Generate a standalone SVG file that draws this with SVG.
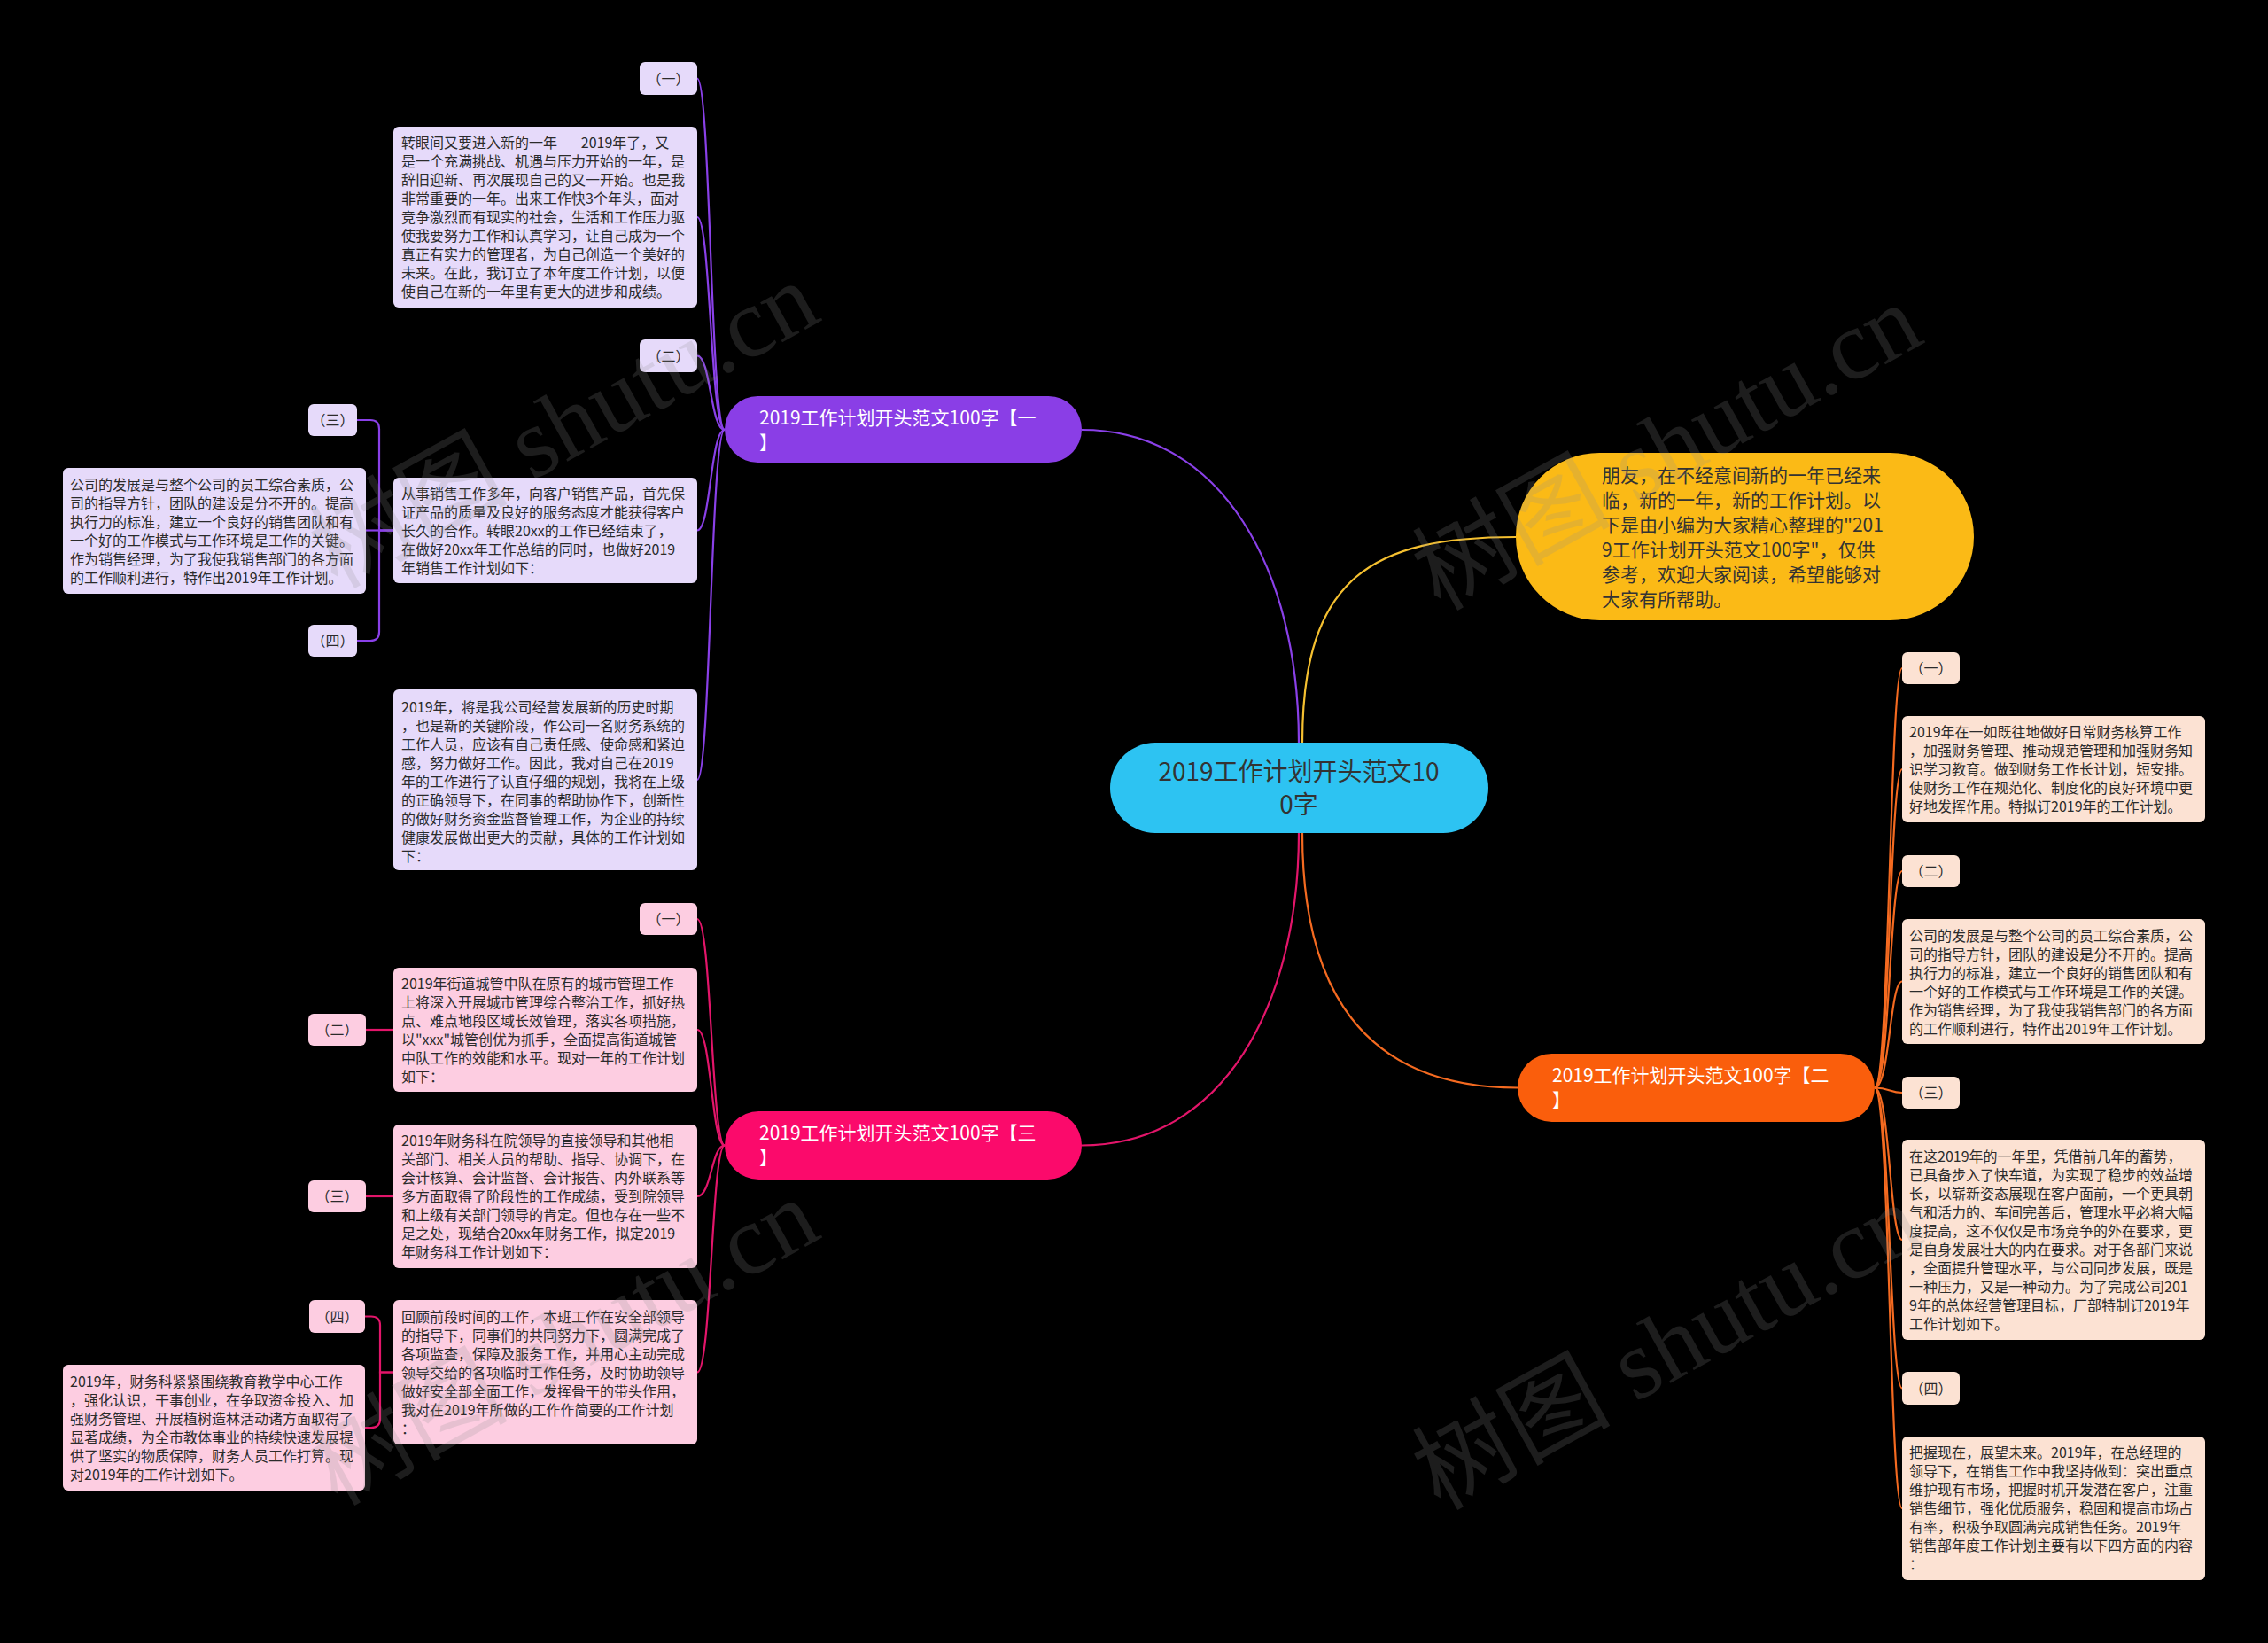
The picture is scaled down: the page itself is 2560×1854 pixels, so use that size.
<svg xmlns="http://www.w3.org/2000/svg" width="2560" height="1854" viewBox="0 0 2560 1854">
<style>
text{font-family:"Noto Sans CJK SC","Noto Sans",sans-serif;}
.t16{font-size:16px;fill:#2b2b2b;}
.lbl{font-size:16px;fill:#2b2b2b;text-anchor:middle;}
.br{font-size:21px;fill:#ffffff;}
.pc{fill:#E6DAFA;}
.kc{fill:#FDCDE1;}
.oc{fill:#FCE2D3;}
.cp{fill:none;stroke:#8A40E8;stroke-width:2.2;}
.ck{fill:none;stroke:#E3156A;stroke-width:2.2;}
.co{fill:none;stroke:#F46A20;stroke-width:2.2;}
.cy{fill:none;stroke:#F5C030;stroke-width:2.2;}
.wm{font-family:"Liberation Serif","Noto Sans CJK SC",serif;font-size:112px;fill:#909090;opacity:0.2;}
</style>
<rect x="0" y="0" width="2560" height="1854" fill="#000000"/>

<g id="connectors">
  <path class="cp" d="M1466 838 C1466 644 1380 485 1221 485"/>
  <path class="cy" d="M1470 838 C1470 650 1550 606 1711 606"/>
  <path class="co" d="M1470 940 C1470 1130 1550 1227.5 1713 1227.5"/>
  <path class="ck" d="M1466 940 C1466 1135 1380 1292.5 1221 1292.5"/>
  <path class="cp" d="M818 485 C802 485 802 88.5 787 88.5"/>
  <path class="cp" d="M818 485 C802 485 802 245 787 245"/>
  <path class="cp" d="M818 485 C802 485 802 401.5 787 401.5"/>
  <path class="cp" d="M818 485 C802 485 802 598.5 787 598.5"/>
  <path class="cp" d="M818 485 C802 485 802 880 787 880"/>
  <path class="cp" d="M444 598.5 H428 V484 Q428 474 418 474 H403"/>
  <path class="cp" d="M444 598.5 H413"/>
  <path class="cp" d="M444 598.5 H428 V713 Q428 723 418 723 H403"/>
  <path class="ck" d="M818 1292.5 C803 1292.5 803 1037 787 1037"/>
  <path class="ck" d="M818 1292.5 C803 1292.5 803 1162 787 1162"/>
  <path class="ck" d="M818 1292.5 C803 1292.5 803 1350 787 1350"/>
  <path class="ck" d="M818 1292.5 C803 1292.5 803 1548.5 787 1548.5"/>
  <path class="ck" d="M444 1162 H413"/>
  <path class="ck" d="M444 1350 H413"/>
  <path class="ck" d="M444 1548.5 H429 V1495.5 Q429 1485.5 419 1485.5 H412"/>
  <path class="ck" d="M444 1548.5 H429 V1601 Q429 1611 419 1611 H412"/>
  <path class="co" d="M2116 1227.5 C2133 1227.5 2133 754 2147 754"/>
  <path class="co" d="M2116 1227.5 C2133 1227.5 2133 868 2147 868"/>
  <path class="co" d="M2116 1227.5 C2133 1227.5 2133 983 2147 983"/>
  <path class="co" d="M2116 1227.5 C2133 1227.5 2133 1107.5 2147 1107.5"/>
  <path class="co" d="M2116 1227.5 C2133 1227.5 2133 1233 2147 1233"/>
  <path class="co" d="M2116 1227.5 C2133 1227.5 2133 1399 2147 1399"/>
  <path class="co" d="M2116 1227.5 C2133 1227.5 2133 1566.5 2147 1566.5"/>
  <path class="co" d="M2116 1227.5 C2133 1227.5 2133 1702 2147 1702"/>
</g>

<g id="root">
  <rect x="1253" y="838" width="427" height="102" rx="51" fill="#2DC3F2"/>
  <text font-size="28" fill="#333333" text-anchor="middle"><tspan x="1466" y="881">2019工作计划开头范文10</tspan><tspan x="1466" y="918">0字</tspan></text>
</g>

<g id="intro">
  <rect x="1711" y="511" width="517" height="189" rx="94.5" fill="#FBBA16"/>
  <text font-size="21" fill="#333333">
    <tspan x="1808" y="543.5">朋友，在不经意间新的一年已经来</tspan>
    <tspan x="1808" y="571.5">临，新的一年，新的工作计划。以</tspan>
    <tspan x="1808" y="599.5">下是由小编为大家精心整理的"201</tspan>
    <tspan x="1808" y="627.5">9工作计划开头范文100字"，仅供</tspan>
    <tspan x="1808" y="655.5">参考，欢迎大家阅读，希望能够对</tspan>
    <tspan x="1808" y="683.5">大家有所帮助。</tspan>
  </text>
</g>

<g id="branch1">
  <rect x="818" y="447" width="403" height="75" rx="37.5" fill="#8A3EE6"/>
  <text class="br"><tspan x="857" y="479">2019工作计划开头范文100字【一</tspan><tspan x="857" y="507">】</tspan></text>
</g>
<g id="b1-l1"><rect class="pc" x="722" y="70" width="65" height="37" rx="6"/><text class="lbl" x="754.5" y="94.5">（一）</text></g>
<g id="b1-t1"><rect class="pc" x="444" y="143" width="343" height="204" rx="6"/>
  <text class="t16">
    <tspan x="453" y="167">转眼间又要进入新的一年——2019年了，又</tspan>
    <tspan x="453" y="188">是一个充满挑战、机遇与压力开始的一年，是</tspan>
    <tspan x="453" y="209">辞旧迎新、再次展现自己的又一开始。也是我</tspan>
    <tspan x="453" y="230">非常重要的一年。出来工作快3个年头，面对</tspan>
    <tspan x="453" y="251">竞争激烈而有现实的社会，生活和工作压力驱</tspan>
    <tspan x="453" y="272">使我要努力工作和认真学习，让自己成为一个</tspan>
    <tspan x="453" y="293">真正有实力的管理者，为自己创造一个美好的</tspan>
    <tspan x="453" y="314">未来。在此，我订立了本年度工作计划，以便</tspan>
    <tspan x="453" y="335">使自己在新的一年里有更大的进步和成绩。</tspan>
  </text></g>
<g id="b1-l2"><rect class="pc" x="722" y="383" width="65" height="37" rx="6"/><text class="lbl" x="754.5" y="407.5">（二）</text></g>
<g id="b1-t2"><rect class="pc" x="444" y="539" width="343" height="119" rx="6"/>
  <text class="t16">
    <tspan x="453" y="562.5">从事销售工作多年，向客户销售产品，首先保</tspan>
    <tspan x="453" y="583.5">证产品的质量及良好的服务态度才能获得客户</tspan>
    <tspan x="453" y="604.5">长久的合作。转眼20xx的工作已经结束了，</tspan>
    <tspan x="453" y="625.5">在做好20xx年工作总结的同时，也做好2019</tspan>
    <tspan x="453" y="646.5">年销售工作计划如下：</tspan>
  </text></g>
<g id="b1-l3"><rect class="pc" x="348" y="456" width="55" height="36" rx="6"/><text class="lbl" x="375.5" y="480">（三）</text></g>
<g id="b1-t4"><rect class="pc" x="71" y="528" width="342" height="142" rx="6"/>
  <text class="t16">
    <tspan x="79" y="552.5">公司的发展是与整个公司的员工综合素质，公</tspan>
    <tspan x="79" y="573.5">司的指导方针，团队的建设是分不开的。提高</tspan>
    <tspan x="79" y="594.5">执行力的标准，建立一个良好的销售团队和有</tspan>
    <tspan x="79" y="615.5">一个好的工作模式与工作环境是工作的关键。</tspan>
    <tspan x="79" y="636.5">作为销售经理，为了我使我销售部门的各方面</tspan>
    <tspan x="79" y="657.5">的工作顺利进行，特作出2019年工作计划。</tspan>
  </text></g>
<g id="b1-l4"><rect class="pc" x="348" y="705" width="55" height="36" rx="6"/><text class="lbl" x="375.5" y="729">（四）</text></g>
<g id="b1-t3"><rect class="pc" x="444" y="778" width="343" height="204" rx="6"/>
  <text class="t16">
    <tspan x="453" y="803.5">2019年，将是我公司经营发展新的历史时期</tspan>
    <tspan x="453" y="824.5">，也是新的关键阶段，作公司一名财务系统的</tspan>
    <tspan x="453" y="845.5">工作人员，应该有自己责任感、使命感和紧迫</tspan>
    <tspan x="453" y="866.5">感，努力做好工作。因此，我对自己在2019</tspan>
    <tspan x="453" y="887.5">年的工作进行了认直仔细的规划，我将在上级</tspan>
    <tspan x="453" y="908.5">的正确领导下，在同事的帮助协作下，创新性</tspan>
    <tspan x="453" y="929.5">的做好财务资金监督管理工作，为企业的持续</tspan>
    <tspan x="453" y="950.5">健康发展做出更大的贡献，具体的工作计划如</tspan>
    <tspan x="453" y="971.5">下：</tspan>
  </text></g>

<g id="branch3">
  <rect x="818" y="1254" width="403" height="77" rx="38.5" fill="#FB0A6B"/>
  <text class="br"><tspan x="857" y="1286">2019工作计划开头范文100字【三</tspan><tspan x="857" y="1314">】</tspan></text>
</g>
<g id="b3-l1"><rect class="kc" x="722" y="1019" width="65" height="36" rx="6"/><text class="lbl" x="754.5" y="1043">（一）</text></g>
<g id="b3-t1"><rect class="kc" x="444" y="1092" width="343" height="140" rx="6"/>
  <text class="t16">
    <tspan x="453" y="1115.5">2019年街道城管中队在原有的城市管理工作</tspan>
    <tspan x="453" y="1136.5">上将深入开展城市管理综合整治工作，抓好热</tspan>
    <tspan x="453" y="1157.5">点、难点地段区域长效管理，落实各项措施，</tspan>
    <tspan x="453" y="1178.5">以"xxx"城管创优为抓手，全面提高街道城管</tspan>
    <tspan x="453" y="1199.5">中队工作的效能和水平。现对一年的工作计划</tspan>
    <tspan x="453" y="1220.5">如下：</tspan>
  </text></g>
<g id="b3-l2"><rect class="kc" x="348" y="1144" width="65" height="36" rx="6"/><text class="lbl" x="380.5" y="1168">（二）</text></g>
<g id="b3-t2"><rect class="kc" x="444" y="1269" width="343" height="162" rx="6"/>
  <text class="t16">
    <tspan x="453" y="1293">2019年财务科在院领导的直接领导和其他相</tspan>
    <tspan x="453" y="1314">关部门、相关人员的帮助、指导、协调下，在</tspan>
    <tspan x="453" y="1335">会计核算、会计监督、会计报告、内外联系等</tspan>
    <tspan x="453" y="1356">多方面取得了阶段性的工作成绩，受到院领导</tspan>
    <tspan x="453" y="1377">和上级有关部门领导的肯定。但也存在一些不</tspan>
    <tspan x="453" y="1398">足之处，现结合20xx年财务工作，拟定2019</tspan>
    <tspan x="453" y="1419">年财务科工作计划如下：</tspan>
  </text></g>
<g id="b3-l3"><rect class="kc" x="348" y="1332" width="65" height="36" rx="6"/><text class="lbl" x="380.5" y="1356">（三）</text></g>
<g id="b3-t3"><rect class="kc" x="444" y="1467" width="343" height="163" rx="6"/>
  <text class="t16">
    <tspan x="453" y="1491.5">回顾前段时间的工作，本班工作在安全部领导</tspan>
    <tspan x="453" y="1512.5">的指导下，同事们的共同努力下，圆满完成了</tspan>
    <tspan x="453" y="1533.5">各项监查，保障及服务工作，并用心主动完成</tspan>
    <tspan x="453" y="1554.5">领导交给的各项临时工作任务，及时协助领导</tspan>
    <tspan x="453" y="1575.5">做好安全部全面工作，发挥骨干的带头作用，</tspan>
    <tspan x="453" y="1596.5">我对在2019年所做的工作作简要的工作计划</tspan>
    <tspan x="453" y="1617.5">：</tspan>
  </text></g>
<g id="b3-l4"><rect class="kc" x="349" y="1467" width="63" height="37" rx="6"/><text class="lbl" x="380.5" y="1491.5">（四）</text></g>
<g id="b3-t4"><rect class="kc" x="71" y="1540" width="341" height="142" rx="6"/>
  <text class="t16">
    <tspan x="79" y="1564.5">2019年，财务科紧紧围绕教育教学中心工作</tspan>
    <tspan x="79" y="1585.5">，强化认识，干事创业，在争取资金投入、加</tspan>
    <tspan x="79" y="1606.5">强财务管理、开展植树造林活动诸方面取得了</tspan>
    <tspan x="79" y="1627.5">显著成绩，为全市教体事业的持续快速发展提</tspan>
    <tspan x="79" y="1648.5">供了坚实的物质保障，财务人员工作打算。现</tspan>
    <tspan x="79" y="1669.5">对2019年的工作计划如下。</tspan>
  </text></g>

<g id="branch2">
  <rect x="1713" y="1189" width="403" height="77" rx="38.5" fill="#FA5E0C"/>
  <text class="br"><tspan x="1752" y="1221">2019工作计划开头范文100字【二</tspan><tspan x="1752" y="1249">】</tspan></text>
</g>
<g id="b2-l1"><rect class="oc" x="2147" y="736" width="65" height="36" rx="6"/><text class="lbl" x="2179.5" y="760">（一）</text></g>
<g id="b2-t1"><rect class="oc" x="2147" y="808" width="342" height="120" rx="6"/>
  <text class="t16">
    <tspan x="2155" y="832">2019年在一如既往地做好日常财务核算工作</tspan>
    <tspan x="2155" y="853">，加强财务管理、推动规范管理和加强财务知</tspan>
    <tspan x="2155" y="874">识学习教育。做到财务工作长计划，短安排。</tspan>
    <tspan x="2155" y="895">使财务工作在规范化、制度化的良好环境中更</tspan>
    <tspan x="2155" y="916">好地发挥作用。特拟订2019年的工作计划。</tspan>
  </text></g>
<g id="b2-l2"><rect class="oc" x="2147" y="965" width="65" height="36" rx="6"/><text class="lbl" x="2179.5" y="989">（二）</text></g>
<g id="b2-t2"><rect class="oc" x="2147" y="1037" width="342" height="141" rx="6"/>
  <text class="t16">
    <tspan x="2155" y="1061.5">公司的发展是与整个公司的员工综合素质，公</tspan>
    <tspan x="2155" y="1082.5">司的指导方针，团队的建设是分不开的。提高</tspan>
    <tspan x="2155" y="1103.5">执行力的标准，建立一个良好的销售团队和有</tspan>
    <tspan x="2155" y="1124.5">一个好的工作模式与工作环境是工作的关键。</tspan>
    <tspan x="2155" y="1145.5">作为销售经理，为了我使我销售部门的各方面</tspan>
    <tspan x="2155" y="1166.5">的工作顺利进行，特作出2019年工作计划。</tspan>
  </text></g>
<g id="b2-l3"><rect class="oc" x="2147" y="1215" width="65" height="36" rx="6"/><text class="lbl" x="2179.5" y="1239">（三）</text></g>
<g id="b2-t3"><rect class="oc" x="2147" y="1286" width="342" height="226" rx="6"/>
  <text class="t16">
    <tspan x="2155" y="1310.5">在这2019年的一年里，凭借前几年的蓄势，</tspan>
    <tspan x="2155" y="1331.5">已具备步入了快车道，为实现了稳步的效益增</tspan>
    <tspan x="2155" y="1352.5">长，以崭新姿态展现在客户面前，一个更具朝</tspan>
    <tspan x="2155" y="1373.5">气和活力的、车间完善后，管理水平必将大幅</tspan>
    <tspan x="2155" y="1394.5">度提高，这不仅仅是市场竞争的外在要求，更</tspan>
    <tspan x="2155" y="1415.5">是自身发展壮大的内在要求。对于各部门来说</tspan>
    <tspan x="2155" y="1436.5">，全面提升管理水平，与公司同步发展，既是</tspan>
    <tspan x="2155" y="1457.5">一种压力，又是一种动力。为了完成公司201</tspan>
    <tspan x="2155" y="1478.5">9年的总体经营管理目标，厂部特制订2019年</tspan>
    <tspan x="2155" y="1499.5">工作计划如下。</tspan>
  </text></g>
<g id="b2-l4"><rect class="oc" x="2147" y="1548" width="65" height="37" rx="6"/><text class="lbl" x="2179.5" y="1572.5">（四）</text></g>
<g id="b2-t4"><rect class="oc" x="2147" y="1621" width="342" height="162" rx="6"/>
  <text class="t16">
    <tspan x="2155" y="1645">把握现在，展望未来。2019年，在总经理的</tspan>
    <tspan x="2155" y="1666">领导下，在销售工作中我坚持做到：突出重点</tspan>
    <tspan x="2155" y="1687">维护现有市场，把握时机开发潜在客户，注重</tspan>
    <tspan x="2155" y="1708">销售细节，强化优质服务，稳固和提高市场占</tspan>
    <tspan x="2155" y="1729">有率，积极争取圆满完成销售任务。2019年</tspan>
    <tspan x="2155" y="1750">销售部年度工作计划主要有以下四方面的内容</tspan>
    <tspan x="2155" y="1771">：</tspan>
  </text></g>

<g id="watermarks">
  <text class="wm" transform="translate(380 665) rotate(-29)">树图 shutu.cn</text>
  <text class="wm" transform="translate(1625 690) rotate(-29)">树图 shutu.cn</text>
  <text class="wm" transform="translate(380 1700) rotate(-29)">树图 shutu.cn</text>
  <text class="wm" transform="translate(1625 1705) rotate(-29)">树图 shutu.cn</text>
</g>
</svg>
